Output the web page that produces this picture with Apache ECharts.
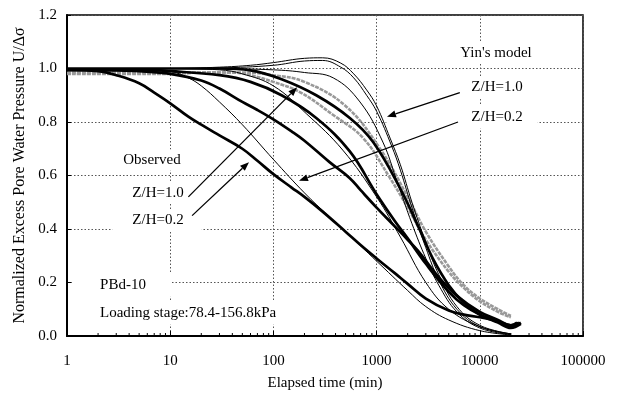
<!DOCTYPE html>
<html>
<head>
<meta charset="utf-8">
<script src="https://cdn.jsdelivr.net/npm/echarts@6/dist/echarts.min.js"></script>
<style>
  html, body { margin: 0; padding: 0; background: #fff; }
  #chart { width: 617px; height: 401px; }
</style>
</head>
<body>
<div id="chart"></div>
<script>
// Dissipation of excess pore water pressure, PBd-10, loading stage 78.4-156.8 kPa.
// Each point: [elapsed time (min), normalized excess pore water pressure U/Δσ]

// Observed piezometer readings (thick black)
const observedZH02 = [[1,0.995],[2,0.99],[3,0.975],[5,0.945],[7,0.91],[10,0.87],[15,0.82],[20,0.79],[30,0.75],[50,0.70],[70,0.655],[100,0.605],[150,0.555],[200,0.52],[300,0.465],[500,0.39],[700,0.34],[1000,0.29],[1500,0.235],[2000,0.195],[3000,0.14],[5000,0.095],[7000,0.08],[10000,0.07],[15000,0.055],[20000,0.04],[23000,0.05]];
const observedZH04 = [[1,0.995],[3,0.993],[5,0.99],[10,0.98],[20,0.955],[30,0.925],[50,0.875],[70,0.845],[100,0.81],[150,0.765],[200,0.73],[350,0.65],[550,0.59],[700,0.545],[1000,0.48],[1500,0.41],[2000,0.36],[2500,0.32],[4000,0.22],[6000,0.15],[10000,0.09],[15000,0.06],[20000,0.04],[24000,0.05]];
const observedZH06 = [[1,0.995],[5,0.995],[10,0.99],[30,0.975],[60,0.95],[120,0.9],[260,0.815],[550,0.69],[1000,0.53],[1500,0.43],[2000,0.365],[3000,0.27],[5000,0.165],[7000,0.115],[10000,0.08],[15000,0.055],[20000,0.035],[25000,0.05]];
const observedZH10 = [[1,1.0],[10,1.0],[30,1.0],[60,0.993],[120,0.96],[260,0.9],[550,0.815],[925,0.725],[1700,0.55],[2600,0.4],[3500,0.29],[5000,0.19],[7000,0.125],[10000,0.08],[15000,0.05],[20000,0.03],[25000,0.045]];

// Observed readings plotted in grey
const observedGreyA = [[1,0.98],[5,0.98],[10,0.98],[20,0.985],[40,0.985],[60,0.975],[100,0.95],[180,0.912],[380,0.826],[740,0.74],[1350,0.59],[2000,0.48],[3000,0.36],[5000,0.24],[7000,0.18],[10000,0.13],[15000,0.09],[20000,0.07]];
const observedGreyB = [[1,0.985],[10,0.985],[50,0.985],[100,0.975],[200,0.95],[500,0.86],[1080,0.70],[2000,0.52],[3000,0.39],[5000,0.26],[7000,0.19],[10000,0.14],[15000,0.1],[20000,0.075]];

// Yin's model predictions (thin black)
const modelZH02 = [[1,1.0],[5,0.998],[10,0.99],[15,0.965],[20,0.935],[30,0.875],[50,0.79],[100,0.66],[200,0.535],[350,0.445],[500,0.39],[1000,0.28],[2000,0.17],[3000,0.11],[5000,0.06],[10000,0.02],[20000,0.004]];
const modelZH04 = [[1,1.0],[10,1.0],[30,0.995],[50,0.98],[100,0.935],[210,0.83],[470,0.695],[1000,0.52],[1700,0.37],[3000,0.2],[5000,0.1],[10000,0.035],[20000,0.008]];
const modelZH06 = [[1,1.0],[30,0.999],[100,0.995],[200,0.985],[380,0.965],[690,0.875],[1150,0.725],[1570,0.58],[2200,0.42],[3000,0.29],[4000,0.19],[6000,0.09],[10000,0.03],[20000,0.005]];
const modelZH08 = [[1,1.0],[10,1.0],[30,1.002],[100,1.012],[200,1.028],[300,1.03],[450,1.005],[600,0.965],[800,0.9],[1000,0.84],[1400,0.71],[1700,0.62],[2200,0.48],[3000,0.33],[4000,0.21],[6000,0.1],[10000,0.035],[20000,0.007]];
const modelZH10 = [[1,1.0],[10,1.0],[30,1.005],[60,1.012],[100,1.022],[200,1.038],[300,1.04],[450,1.02],[600,0.98],[800,0.92],[1000,0.86],[1350,0.74],[1700,0.64],[2200,0.5],[3000,0.35],[4000,0.23],[6000,0.11],[10000,0.04],[20000,0.008]];

// Axis ranges
const xRange = [1, 100000];
const yRange = [0, 1.2];
const yStep = 0.2;

const FONT = '"Liberation Serif", "Times New Roman", "DejaVu Serif", serif';

// minor ticks at 2..9 within each decade
const minorTicks = [];
for (let d = 1; d < xRange[1]; d *= 10) {
  for (let m = 2; m <= 9; m++) minorTicks.push([m * d, 0]);
}

const styles = {
  observed: { color: '#000', width: 2.7, type: 'solid' },
  grey: { color: '#999', width: 2.6, type: [4, 1] },
  model: { color: '#000', width: 1, type: 'solid' }
};

function curve(data, kind, z) {
  const s = styles[kind];
  return {
    type: 'line', data: data, symbol: 'none', showSymbol: false,
    smooth: 0.4, silent: true, z: z,
    lineStyle: { color: s.color, width: s.width, type: s.type }
  };
}

const gridLine = () => ({ show: true, lineStyle: { color: '#555', width: 1, type: [1.5, 2] } });

const option = {
  animation: false,
  backgroundColor: '#fff',
  grid: { left: 67, right: 34, top: 15, bottom: 65, show: true, borderColor: '#000', borderWidth: 1.5 },
  xAxis: {
    type: 'log', logBase: 10, min: xRange[0], max: xRange[1],
    name: 'Elapsed time (min)', nameLocation: 'middle', nameGap: 40,
    nameTextStyle: { fontFamily: FONT, fontSize: 15, color: '#000' },
    axisLine: { lineStyle: { color: '#000', width: 2 } },
    axisTick: { show: true, inside: true, length: 5, lineStyle: { color: '#000' } },
    axisLabel: { fontFamily: FONT, fontSize: 15, color: '#000', margin: 18,
      formatter: v => String(Math.round(v)) },
    splitLine: gridLine()
  },
  yAxis: {
    type: 'value', min: yRange[0], max: yRange[1], interval: yStep,
    name: 'Normalized Excess Pore Water Pressure U/\u0394\u03c3', nameLocation: 'middle', nameGap: 39,
    nameTextStyle: { fontFamily: FONT, fontSize: 16, color: '#000' },
    axisLine: { show: true, lineStyle: { color: '#000', width: 2 } },
    axisTick: { show: true, inside: true, length: 4, lineStyle: { color: '#000' } },
    axisLabel: { fontFamily: FONT, fontSize: 15, color: '#000', margin: 10,
      formatter: v => v.toFixed(1) },
    splitLine: gridLine()
  },
  series: [
    curve(observedGreyA, 'grey', 2),
    curve(observedGreyB, 'grey', 2),
    curve(observedZH02, 'observed', 3),
    curve(observedZH04, 'observed', 3),
    curve(observedZH06, 'observed', 3),
    curve(observedZH10, 'observed', 3),
    curve(modelZH02, 'model', 4),
    curve(modelZH04, 'model', 4),
    curve(modelZH06, 'model', 4),
    curve(modelZH08, 'model', 4),
    curve(modelZH10, 'model', 4),
    {
      type: 'custom', data: minorTicks, silent: true, clip: false, z: 5,
      renderItem: (params, api) => {
        const p = api.coord([api.value(0), api.value(1)]);
        return { type: 'line', shape: { x1: p[0], y1: p[1], x2: p[0], y2: p[1] - 3 },
                 style: { stroke: '#000', lineWidth: 1 } };
      }
    }
  ]
};

const chart = echarts.init(document.getElementById('chart'));
chart.setOption(option);

const toPx = p => chart.convertToPixel({ xAxisIndex: 0, yAxisIndex: 0 }, p);

// Annotation text: [text, anchor [t, u], align, padding [top, right, bottom, left]]
const labels = [
  ["Yin's model", [14350, 1.058], 'center', [3, 10, 3, 10]],
  ['Z/H=1.0', [14680, 0.931], 'center', [3, 15, 3, 15]],
  ['Z/H=0.2', [14680, 0.819], 'center', [4, 15, 4, 85]],
  ['Observed', [6.66, 0.658], 'center', [3, 6, 3, 6]],
  ['Z/H=1.0', [7.62, 0.535], 'center', [3, 10, 3, 10]],
  ['Z/H=0.2', [7.62, 0.434], 'center', [3, 18, 3, 20]],
  ['PBd-10', [2.09, 0.19], 'left', [4, 26, 4, 28]],
  ['Loading stage:78.4-156.8kPa', [2.09, 0.086], 'left', [4, 7, 4, 28]]
];

// Arrows: [from [t, u], to [t, u]]
const arrows = [
  [[15, 0.52], [170, 0.93]],
  [[16.3, 0.45], [58, 0.65]],
  [[6400, 0.91], [1260, 0.82]],
  [[6150, 0.80], [177, 0.58]]
];

const elements = [];
labels.forEach(([text, at, align, pad]) => {
  const p = toPx(at);
  const x = align === 'left' ? p[0] - pad[3] : p[0] - (pad[3] - pad[1]) / 2;
  elements.push({
    type: 'text', z: 1, x: x, y: p[1],
    style: { text: text, font: '15px ' + FONT, fill: '#000', align: align,
             verticalAlign: 'middle', backgroundColor: '#fff', padding: pad }
  });
});
arrows.forEach(([from, to]) => {
  const a = toPx(from), b = toPx(to);
  const dx = b[0] - a[0], dy = b[1] - a[1], len = Math.hypot(dx, dy);
  const ux = dx / len, uy = dy / len, hl = 9, hw = 3.5;
  const bx = b[0] - ux * hl, by = b[1] - uy * hl;
  elements.push({ type: 'line', z: 10, shape: { x1: a[0], y1: a[1], x2: bx, y2: by },
                  style: { stroke: '#000', lineWidth: 1.3 } });
  elements.push({ type: 'polygon', z: 10,
                  shape: { points: [[b[0], b[1]], [bx - uy * hw, by + ux * hw], [bx + uy * hw, by - ux * hw]] },
                  style: { fill: '#000' } });
});
chart.setOption({ graphic: { elements: elements } });
</script>
</body>
</html>
